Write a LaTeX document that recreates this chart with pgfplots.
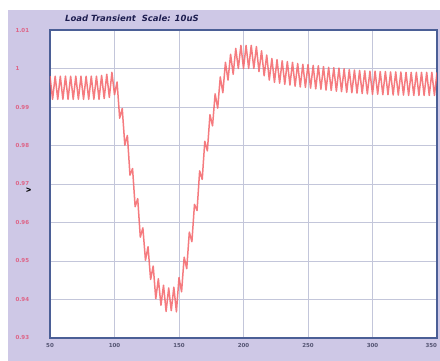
\documentclass[border=0pt]{standalone}
\usepackage{fontspec}
\setmainfont{DejaVu Sans}
\usepackage{pgfplots}
\pgfplotsset{compat=1.18}
\definecolor{lav}{RGB}{206,200,230}
\definecolor{framec}{RGB}{75,95,150}
\definecolor{gridc}{RGB}{195,198,218}
\definecolor{wave}{RGB}{244,100,105}
\definecolor{ylab}{RGB}{222,100,135}
\definecolor{xlab}{RGB}{85,85,115}
\definecolor{titlec}{RGB}{30,30,80}
\begin{document}
\begin{tikzpicture}
\useasboundingbox (-50pt,-23pt) rectangle (390pt,338pt);
\fill[white] (-50pt,-23pt) rectangle (390pt,338pt);
\fill[lav] (-42pt,-23pt) rectangle (390pt,328pt);
\begin{axis}[
  scale only axis, width=387pt, height=308pt,
  at={(0,0)}, anchor=south west,
  xmin=50, xmax=350, ymin=0.93, ymax=1.01,
  xtick={50,100,150,200,250,300,350},
  xticklabels={50,100,150,200,250,300,\makebox[0pt][r]{350}},
  ytick={0.93,0.94,0.95,0.96,0.97,0.98,0.99,1,1.01},
  major tick length=0pt,
  grid=major,
  grid style={gridc, line width=0.6pt},
  axis line style={framec, line width=1.3pt},
  axis background/.style={fill=white},
  /pgf/number format/assume math mode=true,
  yticklabel style={font=\bfseries\fontsize{5.5}{6}\selectfont, text=ylab, anchor=west, xshift=-38pt},
  xticklabel style={font=\bfseries\fontsize{5.5}{6}\selectfont, text=xlab, yshift=-2pt},
  ylabel={\textbf{V}}, ylabel style={font=\fontsize{6}{6}\selectfont, at={(axis description cs:-0.04,0.48)}},
  title={\textbf{\itshape Load Transient\ \ Scale: 10uS}},
  title style={font=\fontsize{8.5}{9}\selectfont, text=titlec, at={(axis description cs:0.03,1.0)}, anchor=south west, yshift=-1pt},
]
\addplot[wave, line width=1.5pt, opacity=0.85, line join=round] coordinates {
(50,0.9980)(52,0.9920)(54,0.9980)(56,0.9920)(58,0.9980)(60,0.9920)(62,0.9980)(64,0.9920)
(66,0.9980)(68,0.9920)(70,0.9980)(72,0.9920)(74,0.9980)(76,0.9920)(78,0.9980)(80,0.9920)
(82,0.9980)(84,0.9920)(86,0.9980)(88,0.9920)(90,0.9982)(92,0.9922)(94,0.9985)(96,0.9925)
(98,0.9990)(100,0.9932)(102,0.9965)(104,0.9871)(106,0.9896)(108,0.9801)(110,0.9826)(112,0.9723)
(114,0.9740)(116,0.9641)(118,0.9662)(120,0.9562)(122,0.9586)(124,0.9502)(126,0.9537)(128,0.9452)
(130,0.9487)(132,0.9402)(134,0.9454)(136,0.9385)(138,0.9437)(140,0.9369)(142,0.9430)(144,0.9371)
(146,0.9432)(148,0.9368)(150,0.9457)(152,0.9420)(154,0.9510)(156,0.9480)(158,0.9575)(160,0.9550)
(162,0.9647)(164,0.9631)(166,0.9734)(168,0.9712)(170,0.9811)(172,0.9786)(174,0.9880)(176,0.9851)
(178,0.9934)(180,0.9897)(182,0.9978)(184,0.9937)(186,1.0016)(188,0.9970)(190,1.0037)(192,0.9985)
(194,1.0052)(196,1.0000)(198,1.0060)(200,1.0000)(202,1.0060)(204,1.0000)(206,1.0060)(208,1.0000)
(210,1.0057)(212,0.9992)(214,1.0046)(216,0.9981)(218,1.0035)(220,0.9970)(222,1.0026)(224,0.9964)
(226,1.0023)(228,0.9962)(230,1.0020)(232,0.9959)(234,1.0018)(236,0.9957)(238,1.0016)(240,0.9954)
(242,1.0013)(244,0.9952)(246,1.0011)(248,0.9951)(250,1.0010)(252,0.9949)(254,1.0008)(256,0.9947)
(258,1.0007)(260,0.9946)(262,1.0005)(264,0.9944)(266,1.0003)(268,0.9943)(270,1.0002)(272,0.9941)
(274,1.0001)(276,0.9940)(278,0.9999)(280,0.9938)(282,0.9997)(284,0.9937)(286,0.9996)(288,0.9936)
(290,0.9995)(292,0.9935)(294,0.9994)(296,0.9934)(298,0.9993)(300,0.9933)(302,0.9993)(304,0.9933)
(306,0.9992)(308,0.9932)(310,0.9992)(312,0.9932)(314,0.9991)(316,0.9931)(318,0.9991)(320,0.9931)
(322,0.9991)(324,0.9931)(326,0.9990)(328,0.9930)(330,0.9990)(332,0.9930)(334,0.9990)(336,0.9930)
(338,0.9990)(340,0.9930)(342,0.9990)(344,0.9930)(346,0.9990)(348,0.9930)(350,0.9990)
};
\end{axis}
\end{tikzpicture}
\end{document}
